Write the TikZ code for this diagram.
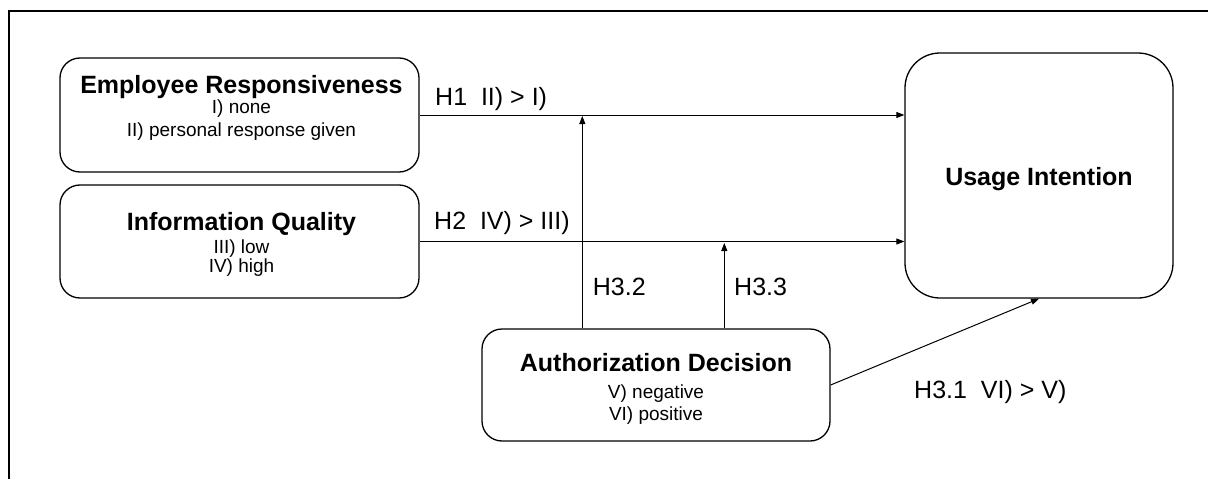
\documentclass[tikz,border=0pt]{standalone}
\usepackage{fontspec}
\setmainfont{Liberation Sans}
\usetikzlibrary{arrows.meta}
\tikzset{
  box/.style={draw, line width=1.3pt, rectangle, inner sep=0pt},
  ttl/.style={font=\fontsize{25}{30}\selectfont\bfseries, inner sep=0pt, anchor=base},
  sub/.style={font=\fontsize{19}{23}\selectfont, inner sep=0pt, anchor=base},
  lbl/.style={font=\fontsize{25}{29}\selectfont, inner sep=0pt, anchor=base west},
  arr/.style={line width=1pt, -{Triangle[length=8pt,width=6pt]}},
}
\begin{document}
\begin{tikzpicture}[x=1pt,y=-1pt]
\useasboundingbox (0,0) rectangle (1208,479);
% outer frame (partial)
\coordinate (ftr) at (1212,11);
\coordinate (ftl) at (8.5,11);
\coordinate (fbl) at (8.5,483);
\draw[line width=2pt] (ftr) -- (ftl) -- (fbl);

% boxes
\node[box, rounded corners=20pt, minimum width=359pt, minimum height=114pt] (er) at (239.5,115) {};
\node[box, rounded corners=20pt, minimum width=359pt, minimum height=113pt] (iq) at (239.5,241.5) {};
\node[box, rounded corners=20pt, minimum width=348pt, minimum height=112pt] (ad) at (656,385) {};
\node[box, rounded corners=35pt, minimum width=268pt, minimum height=245pt] (ui) at (1039,175.5) {};

% texts
\node[ttl] (ert) at (241.5,93.3) {Employee Responsiveness};
\node[sub] (er1) at (241.5,113.3) {I) none};
\node[sub] (er2) at (241.5,136) {II) personal response given};

\node[ttl] (iqt) at (241.5,230) {Information Quality};
\node[sub] (iq1) at (241.5,253.3) {III) low};
\node[sub] (iq2) at (241.5,272.7) {IV) high};

\node[ttl] (adt) at (656,371.7) {Authorization Decision};
\node[sub] (ad1) at (656,398) {V) negative};
\node[sub] (ad2) at (656,420) {VI) positive};

\node[ttl] (uit) at (1039,185.7) {Usage Intention};

% connectors
\draw[arr] (er.east) -- (er.east -| ui.west);
\draw[arr] (iq.east) -- (iq.east -| ui.west);
\coordinate (h32) at (582.3,116);
\coordinate (h33) at (724.3,243);
\draw[arr] (h32 |- ad.north) -- (h32);
\draw[arr] (h33 |- ad.north) -- (h33);
\draw[arr] (ad.east) -- (ui.south);

% labels
\node[lbl] (l1) at (435,105) {H1\ \ II) > I)};
\node[lbl] (l2) at (434,229) {H2\ \ IV) > III)};
\node[lbl] (l32) at (592.7,295) {H3.2};
\node[lbl] (l33) at (734,295) {H3.3};
\node[lbl] (l31) at (914,398) {H3.1\ \ VI) > V)};
\end{tikzpicture}
\end{document}
